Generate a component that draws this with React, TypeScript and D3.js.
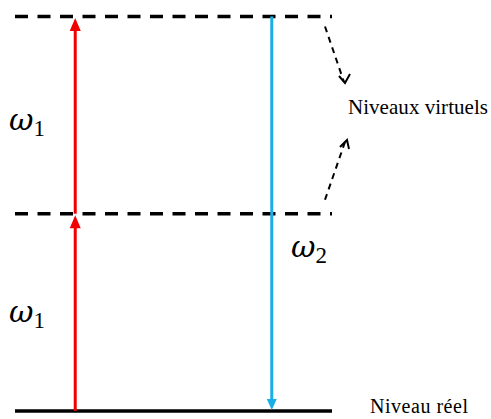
import * as d3 from "d3"

// energy levels (bottom = real level, then two virtual levels)
const levelNames = ["Niveau réel", "virtuel 1", "virtuel 2"]
const levelEnergy = [0, 1, 2]
const levelVirtual = [false, true, true]

// absorbed photons (red), going up step by step
const absorbFrom = [0, 1]
const absorbTo = [1, 2]
const absorbLabels = ["1", "1"]

// emitted photon (blue), going down
const emitFrom = [2]
const emitTo = [0]
const emitLabels = ["2"]

const annotation = "Niveaux virtuels"

const serif = "'Liberation Serif', 'Times New Roman', serif"
const mathFont = "'DejaVu Serif', serif"

export default function App() {
  const width = 491
  const height = 419

  const y = d3.scaleLinear().domain([0, 2]).range([411, 16.5])
  const x = d3.scaleLinear().domain([0, 100]).range([15, 332])
  const xAbs = x(19)
  const xEmit = x(81)

  const tri = (cx: number, tip: number, dir: number, w: number, h: number) =>
    d3.line()([
      [cx, tip],
      [cx - w / 2, tip + dir * h],
      [cx + w / 2, tip + dir * h],
    ]) + "Z"

  const topY = y(2)
  const midY = y(1)

  return (
    <svg width={width} height={height} style={{ position: "absolute", left: 0, top: 0, background: "#fff" }}>
      {levelEnergy.map((e, i) => (
        <line
          key={levelNames[i]}
          x1={x(0)}
          x2={x(100)}
          y1={y(e)}
          y2={y(e)}
          stroke="#000"
          strokeWidth={3.5}
          strokeDasharray={levelVirtual[i] ? "13 9.5" : undefined}
        />
      ))}

      {absorbFrom.map((f, i) => (
        <g key={"a" + i}>
          <line x1={xAbs} x2={xAbs} y1={y(f)} y2={y(absorbTo[i]) + 10} stroke="#f00000" strokeWidth={3} />
          <path d={tri(xAbs, y(absorbTo[i]) + 1.5, 1, 11, 13)} fill="#f00000" />
          <text
            x={9}
            y={y((f + absorbTo[i]) / 2) + (i === 1 ? 15 : 10)}
            fontFamily={mathFont}
            fontStyle="italic"
            fontSize={30}
          >
            ω
            <tspan fontStyle="normal" fontFamily={serif} fontSize={23} dy={6}>
              {absorbLabels[i]}
            </tspan>
          </text>
        </g>
      ))}

      {emitFrom.map((f, i) => (
        <g key={"e" + i}>
          <line x1={xEmit} x2={xEmit} y1={y(f)} y2={y(emitTo[i]) - 9} stroke="#1aaee6" strokeWidth={3} />
          <path d={tri(xEmit, y(emitTo[i]) - 1, -1, 10, 11)} fill="#1aaee6" />
          <text x={291} y={257} fontFamily={mathFont} fontStyle="italic" fontSize={30}>
            ω
            <tspan fontStyle="normal" fontFamily={serif} fontSize={23} dy={6}>
              {emitLabels[i]}
            </tspan>
          </text>
        </g>
      ))}

      {/* dashed pointers to the virtual levels */}
      <g stroke="#000" strokeWidth={2} fill="none">
        <line x1={325} y1={topY + 10} x2={344} y2={82} strokeDasharray="6 5" />
        <path d="M339,76 L345,83 L350,74" />
        <line x1={325} y1={midY - 14} x2={345} y2={142} strokeDasharray="6 5" />
        <path d="M340,147 L347,140 L349,149" />
      </g>

      <text x={348} y={114} fontFamily={serif} fontSize={21} textLength={140}>
        {annotation}
      </text>
      <text x={370} y={413} fontFamily={serif} fontSize={20} textLength={98}>
        {levelNames[0]}
      </text>
    </svg>
  )
}
